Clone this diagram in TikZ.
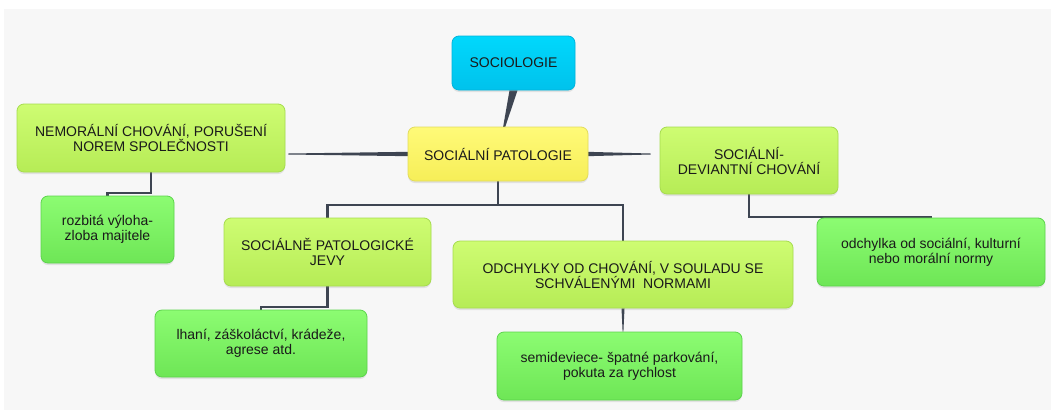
\documentclass[tikz,border=0pt]{standalone}
\usepackage{fontspec}
\setmainfont{Liberation Sans}
\usetikzlibrary{shadows,calc}
\pgfdeclarelayer{bottom}
\pgfdeclarelayer{links}
\pgfsetlayers{bottom,links,main}
\definecolor{bgc}{HTML}{F7F7F7}
\definecolor{txt}{HTML}{1A1A1A}
\definecolor{conn}{HTML}{3E4552}
\definecolor{cyT}{HTML}{00D8FC}
\definecolor{cyB}{HTML}{00C2EC}
\definecolor{cyD}{HTML}{00B4DC}
\definecolor{yeT}{HTML}{FFFA78}
\definecolor{yeB}{HTML}{F6EE58}
\definecolor{yeD}{HTML}{E2DC5C}
\definecolor{ygT}{HTML}{CEFC72}
\definecolor{ygB}{HTML}{B6EC56}
\definecolor{ygD}{HTML}{A6DC4E}
\definecolor{grT}{HTML}{8CFC72}
\definecolor{grB}{HTML}{6EE656}
\definecolor{grD}{HTML}{5CD44C}
\tikzset{
  box/.style={rectangle, rounded corners=7pt, line width=0.8pt, align=center,
    text=txt, font=\fontsize{14}{15}\selectfont, inner sep=2pt,
    drop shadow={opacity=0.18, shadow xshift=0pt, shadow yshift=-2pt}},
  cyanbox/.style={box, draw=cyD, top color=cyT, bottom color=cyB},
  yellowbox/.style={box, draw=yeD, top color=yeT, bottom color=yeB},
  ygbox/.style={box, draw=ygD, top color=ygT, bottom color=ygB},
  grbox/.style={box, draw=grD, top color=grT, bottom color=grB},
  link/.style={draw=conn, line width=2.4pt},
  thinlink/.style={draw=conn, line width=1.2pt},
  taper/.style={fill=conn},
}
\begin{document}
\begin{tikzpicture}[x=1pt,y=-1pt]
\useasboundingbox (0,0) rectangle (1051,410);
\begin{pgfonlayer}{bottom}
\fill[white] (0,0) rectangle (1051,410);
\fill[bgc] (4,9) rectangle (1051,410);
\end{pgfonlayer}

% nodes
\node[cyanbox, minimum width=123pt, minimum height=54pt] (soc) at (513.5,63) {SOCIOLOGIE};
\node[yellowbox, minimum width=180pt, minimum height=54pt] (sp) at (498,154) {SOCIÁLNÍ PATOLOGIE};
\node[ygbox, minimum width=268pt, minimum height=68pt] (nem) at (151,138) {NEMORÁLNÍ CHOVÁNÍ, PORUŠENÍ\\NOREM SPOLEČNOSTI};
\node[ygbox, minimum width=178pt, minimum height=67pt] (sd) at (749,160.5) {SOCIÁLNÍ-\\DEVIANTNÍ CHOVÁNÍ};
\node[grbox, minimum width=133pt, minimum height=67pt] (roz) at (107.5,229.5) {rozbitá výloha-\\zloba majitele};
\node[ygbox, minimum width=207pt, minimum height=68pt] (jevy) at (327.5,252) {SOCIÁLNĚ PATOLOGICKÉ\\JEVY};
\node[ygbox, minimum width=340pt, minimum height=67pt] (odch) at (623,274.5) {ODCHYLKY OD CHOVÁNÍ, V SOULADU SE\\SCHVÁLENÝMI\ \ NORMAMI};
\node[grbox, minimum width=228pt, minimum height=68pt] (odn) at (931,252) {odchylka od sociální, kulturní\\nebo morální normy};
\node[grbox, minimum width=212pt, minimum height=67pt] (lhani) at (261,343.5) {lhaní, záškoláctví, krádeže,\\agrese atd.};
\node[grbox, minimum width=245pt, minimum height=68pt] (semi) at (619.5,366) {semideviece- špatné parkování,\\pokuta za rychlost};

\coordinate (bar) at (498,205);
\coordinate (nemk) at (151,193);
\coordinate (sdk) at (749,217);
\coordinate (jevyk) at (327.5,307);
\coordinate (nemend) at ($(sp.west -| nem.east)+(3,0)$);
\coordinate (sdend) at ($(sp.east -| sd.west)+(-9,0)$);

\begin{pgfonlayer}{links}
% tapered connector SOCIOLOGIE -> SOCIALNI PATOLOGIE
\fill[taper] ($(soc.south)+(-4,0)$) -- ($(soc.south)+(4,0)$) -- ($(sp.north)+(7,1)$) -- ($(sp.north)+(5,1)$) -- cycle;
% left / right tapered
\fill[taper] ($(sp.west)+(2,-2.2)$) -- ($(sp.west)+(2,2.2)$) -- ($(nemend)+(0,0.5)$) -- ($(nemend)+(0,-0.5)$) -- cycle;
\fill[taper] ($(sp.east)+(-2,-2.2)$) -- ($(sp.east)+(-2,2.2)$) -- ($(sdend)+(0,0.5)$) -- ($(sdend)+(0,-0.5)$) -- cycle;
% elbows
\draw[link] (sp.south) -- (bar);
\draw[link] (jevy.north) |- (bar) -| (odch.north);
\draw[link] (nem.south) -- (nemk) -| (roz.north);
\draw[link] (sd.south) -- (sdk) -| (odn.north);
\draw[link] (jevy.south) -- (jevyk) -| (lhani.north);
\fill[taper] ($(odch.south)+(-1.5,0)$) -- ($(odch.south)+(1.5,0)$) -- ($(odch.south |- semi.north)+(0.4,0)$) -- ($(odch.south |- semi.north)+(-0.4,0)$) -- cycle;
\end{pgfonlayer}
\end{tikzpicture}
\end{document}
